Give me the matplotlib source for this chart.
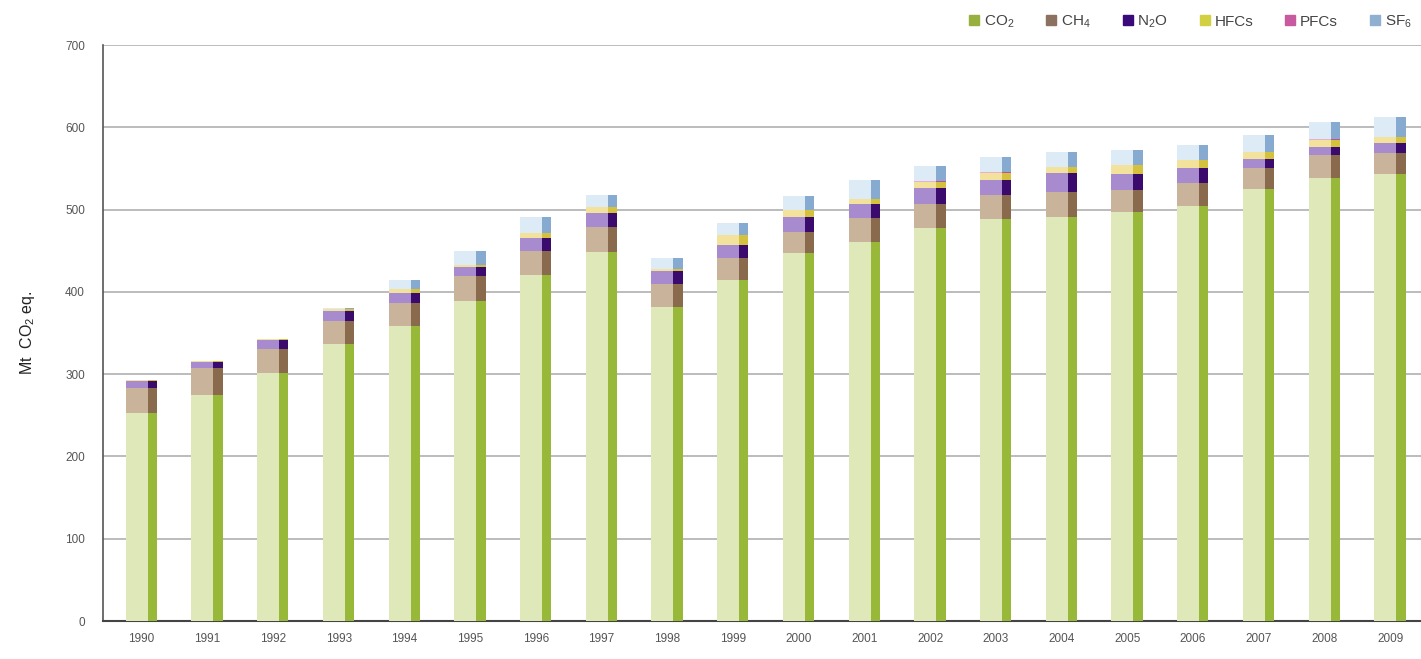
import matplotlib
matplotlib.use("Agg")
import matplotlib.pyplot as plt
from matplotlib.lines import Line2D
import numpy as np

plt.rcParams['font.family'] = ['Liberation Sans', 'DejaVu Sans']
plt.rcParams['mathtext.default'] = 'regular'

years = ['1990', '1991', '1992', '1993', '1994', '1995', '1996', '1997', '1998', '1999',
         '2000', '2001', '2002', '2003', '2004', '2005', '2006', '2007', '2008', '2009']
co2 = [253, 275, 301, 337, 359, 389, 420, 448, 382, 414, 447, 461, 477, 488, 491, 497, 504, 525, 538, 543]
ch4 = [30, 32, 29, 28, 28, 30, 30, 31, 28, 27, 26, 29, 30, 30, 30, 27, 28, 25, 28, 26]
n2o = [9, 8, 12, 12, 12, 11, 15, 17, 15, 16, 18, 17, 19, 18, 23, 19, 18, 11, 10, 12]
hfcs = [0.5, 0.5, 1, 2, 4, 3, 6, 7, 3, 12, 8, 6, 8, 9, 8, 11, 10, 9, 9, 7]
pfcs = [0.2, 0.2, 0.2, 0.2, 0.2, 0.2, 0.2, 0.2, 0.2, 0.2, 0.2, 0.2, 0.2, 0.2, 0.2, 0.2, 0.2, 0.2, 0.2, 0.2]
sf6 = [0, 0, 0, 1, 11, 17, 20, 15, 13, 14, 17, 23, 19, 19, 18, 18, 18, 20, 21, 24]

series = [co2, ch4, n2o, hfcs, pfcs, sf6]
labels = ['CO$_2$', 'CH$_4$', 'N$_2$O', 'HFCs', 'PFCs', 'SF$_6$']
front_colors = ['#dfe8b8', '#c9b39b', '#a88bcf', '#f2e29c', '#eaaed3', '#dcebf6']
side_colors = ['#98b83a', '#8a6a4c', '#3a0a6c', '#d4c23e', '#c0509b', '#86aad0']
legend_colors = ['#97b040', '#8c7060', '#3b0a7a', '#d2d040', '#c85aa0', '#8fb0d0']

fig = plt.figure(figsize=(14.21, 6.59), dpi=100)
ax = fig.add_axes([103 / 1421, 38 / 659, 1 - 103 / 1421, (621 - 45) / 659])

x = np.arange(len(years))
front_w = 0.335
side_w = 0.14
front_x = x - 0.24
side_x = front_x + front_w

bottom = np.zeros(len(years))
for vals, fc, sc in zip(series, front_colors, side_colors):
    v = np.array(vals, dtype=float)
    ax.bar(front_x, v, width=front_w, bottom=bottom, color=fc, align='edge', linewidth=0, zorder=3)
    ax.bar(side_x, v, width=side_w, bottom=bottom, color=sc, align='edge', linewidth=0, zorder=3)
    bottom += v

ax.set_xlim(-0.586, 19.47)
ax.set_ylim(0, 700)
ax.set_yticks(np.arange(0, 701, 100))
ax.set_xticks(x)
ax.set_xticklabels(years)
ax.yaxis.grid(True, color='#b0b0b0', linewidth=1.2, zorder=0)
ax.set_axisbelow(True)
for s in ['top', 'right']:
    ax.spines[s].set_visible(False)
ax.spines['left'].set_color('#555555')
ax.spines['bottom'].set_color('#444444')
ax.spines['left'].set_linewidth(1.2)
ax.spines['bottom'].set_linewidth(1.5)
ax.tick_params(axis='y', length=0, labelsize=8.5, labelcolor='#555555', pad=13)
ax.tick_params(axis='x', length=0, labelsize=8.5, labelcolor='#555555', pad=9)
ax.set_ylabel('Mt  CO$_2$ eq.', fontsize=11.5, color='#222222', labelpad=20)

handles = [Line2D([0], [0], marker='s', linestyle='none', markersize=7,
                  markerfacecolor=c, markeredgecolor=c) for c in legend_colors]
fig.legend(handles, labels, loc='upper right', bbox_to_anchor=(1.003, 1.0), ncol=6,
           frameon=False, fontsize=11, handlelength=0.8, handletextpad=0.25,
           columnspacing=2.0, labelcolor='#444444')

fig.savefig('out.png', dpi=100)
